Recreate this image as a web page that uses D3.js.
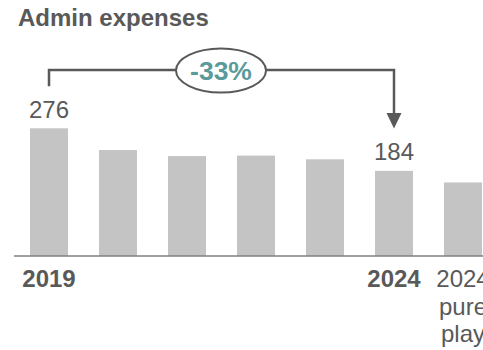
<!DOCTYPE html>
<html>
<head>
<meta charset="utf-8">
<script src="https://cdn.jsdelivr.net/npm/d3@7"></script>
<style>
  body { margin: 0; background: #fff; }
  svg { font-family: "Liberation Sans", Arial, sans-serif; }
</style>
</head>
<body>
<script>
// data
let categories = ['2019', '2020', '2021', '2022', '2023', '2024', '2024 pure play'];
let values = [276, 229, 216, 217, 209, 184, 159];
let tickLabels = ['2019', '', '', '', '', '2024', '2024\npure\nplay'];
let boldTicks = ['2019', '2024'];
let valueLabels = ['276', '', '', '', '', '184', ''];
let changeLabel = '-33%';

let width = 483;
let height = 350;
let baseY = 256;
let textColor = '#595959';
let fontSize = '24px';

let svg = d3.select('body').append('svg')
  .attr('width', width)
  .attr('height', height);

// scales
let xScale = d3.scaleBand()
  .domain(categories)
  .range([14.5, 497.5])
  .paddingInner(0.449)
  .paddingOuter(0.2245);

let yScale = d3.scaleLinear()
  .domain([0, 276])
  .range([baseY, 128.3]);

// title
svg.append('text')
  .attr('x', 18)
  .attr('y', 25.5)
  .attr('fill', textColor)
  .style('font-size', fontSize)
  .style('font-weight', 'bold')
  .text('Admin expenses');

// bars
svg.selectAll('rect.bar')
  .data(values)
  .enter()
  .append('rect')
  .attr('class', 'bar')
  .attr('x', (d, i) => xScale(categories[i]))
  .attr('y', (d) => yScale(d))
  .attr('width', xScale.bandwidth())
  .attr('height', (d) => baseY - yScale(d))
  .attr('fill', '#c4c4c4');

// value labels
svg.selectAll('text.value')
  .data(values)
  .enter()
  .append('text')
  .attr('class', 'value')
  .attr('x', (d, i) => xScale(categories[i]) + xScale.bandwidth() / 2)
  .attr('y', (d) => yScale(d) - 10.5)
  .attr('text-anchor', 'middle')
  .attr('fill', textColor)
  .style('font-size', fontSize)
  .text((d, i) => valueLabels[i]);

// x axis
let xAxis = d3.axisBottom(xScale).tickSize(0).tickFormat('');
let axisG = svg.append('g')
  .attr('transform', 'translate(0,' + baseY + ')')
  .call(xAxis);
axisG.select('.domain')
  .attr('d', 'M14,0H483')
  .attr('stroke', '#808080')
  .attr('stroke-width', 1.5);

// tick labels (last one runs off the right edge, as in the original)
let tickG = svg.selectAll('text.tick-label')
  .data(categories)
  .enter()
  .append('text')
  .attr('class', 'tick-label')
  .attr('x', (d) => xScale(d) + xScale.bandwidth() / 2)
  .attr('y', 287)
  .attr('text-anchor', 'middle')
  .attr('fill', textColor)
  .style('font-size', fontSize)
  .style('font-weight', (d, i) => boldTicks.includes(tickLabels[i]) ? 'bold' : 'normal');

tickG.each(function(d, i) {
  let lines = tickLabels[i].split('\n');
  let cx = xScale(d) + xScale.bandwidth() / 2;
  d3.select(this).selectAll('tspan')
    .data(lines)
    .enter()
    .append('tspan')
    .attr('x', cx)
    .attr('dy', (l, j) => j === 0 ? 0 : 27.5)
    .text((l) => l);
});

// change bracket
let x1 = xScale(categories[0]) + xScale.bandwidth() / 2;
let x2 = xScale(categories[5]) + xScale.bandwidth() / 2;
let bracketY = 70;
let ovalCx = 221;
let ovalRx = 45;
let ovalRy = 22;

svg.append('path')
  .attr('d', 'M' + x1 + ',' + (yScale(values[0]) - 42) + 'V' + bracketY + 'H' + (ovalCx - ovalRx))
  .attr('fill', 'none')
  .attr('stroke', textColor)
  .attr('stroke-width', 2.5);

svg.append('path')
  .attr('d', 'M' + (ovalCx + ovalRx) + ',' + bracketY + 'H' + x2 + 'V' + 114)
  .attr('fill', 'none')
  .attr('stroke', textColor)
  .attr('stroke-width', 2.5);

// arrow head
svg.append('path')
  .attr('d', 'M' + (x2 - 7.5) + ',113L' + (x2 + 7.5) + ',113L' + x2 + ',128.5Z')
  .attr('fill', textColor);

svg.append('ellipse')
  .attr('cx', ovalCx)
  .attr('cy', bracketY + 0.5)
  .attr('rx', ovalRx)
  .attr('ry', ovalRy)
  .attr('fill', '#fff')
  .attr('stroke', textColor)
  .attr('stroke-width', 2);

svg.append('text')
  .attr('x', ovalCx)
  .attr('y', bracketY + 10)
  .attr('text-anchor', 'middle')
  .attr('fill', '#5b9a9a')
  .style('font-size', '26.5px')
  .style('font-weight', 'bold')
  .text(changeLabel);
</script>
</body>
</html>
